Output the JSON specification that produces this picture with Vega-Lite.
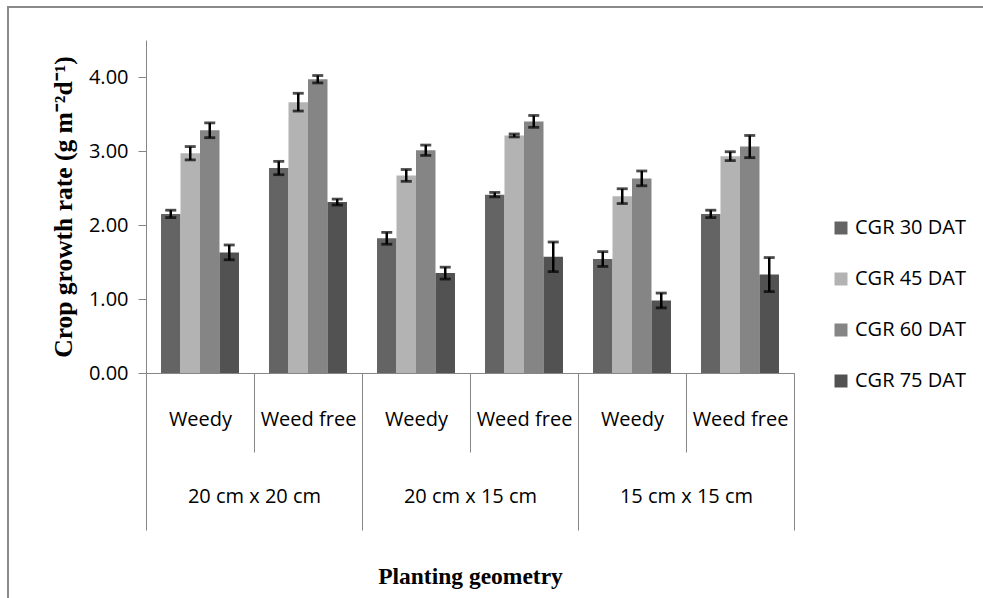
{
  "$schema": "https://vega.github.io/schema/vega-lite/v6.json",
  "width": 985,
  "height": 600,
  "autosize": {"type": "none"},
  "padding": {"left": 8, "top": 7, "right": 0, "bottom": 0},
  "background": "white",
  "config": {
    "view": {"stroke": "#8a8a8a", "strokeWidth": 2},
    "axis": {"domainColor": "#868686", "tickColor": "#868686", "grid": false, "labelColor": "#000000", "titleColor": "#000000"}
  },
  "data": {
    "values": [
      {"spacing": "20 cm x 20 cm", "cell": "20 cm x 20 cm|Weedy", "series": "CGR 30 DAT", "value": 2.15, "lo": 2.10, "hi": 2.20},
      {"spacing": "20 cm x 20 cm", "cell": "20 cm x 20 cm|Weedy", "series": "CGR 45 DAT", "value": 2.97, "lo": 2.88, "hi": 3.06},
      {"spacing": "20 cm x 20 cm", "cell": "20 cm x 20 cm|Weedy", "series": "CGR 60 DAT", "value": 3.28, "lo": 3.18, "hi": 3.38},
      {"spacing": "20 cm x 20 cm", "cell": "20 cm x 20 cm|Weedy", "series": "CGR 75 DAT", "value": 1.63, "lo": 1.53, "hi": 1.73},
      {"spacing": "20 cm x 20 cm", "cell": "20 cm x 20 cm|Weed free", "series": "CGR 30 DAT", "value": 2.77, "lo": 2.68, "hi": 2.86},
      {"spacing": "20 cm x 20 cm", "cell": "20 cm x 20 cm|Weed free", "series": "CGR 45 DAT", "value": 3.66, "lo": 3.54, "hi": 3.78},
      {"spacing": "20 cm x 20 cm", "cell": "20 cm x 20 cm|Weed free", "series": "CGR 60 DAT", "value": 3.97, "lo": 3.92, "hi": 4.02},
      {"spacing": "20 cm x 20 cm", "cell": "20 cm x 20 cm|Weed free", "series": "CGR 75 DAT", "value": 2.31, "lo": 2.27, "hi": 2.35},
      {"spacing": "20 cm x 15 cm", "cell": "20 cm x 15 cm|Weedy", "series": "CGR 30 DAT", "value": 1.82, "lo": 1.74, "hi": 1.90},
      {"spacing": "20 cm x 15 cm", "cell": "20 cm x 15 cm|Weedy", "series": "CGR 45 DAT", "value": 2.67, "lo": 2.59, "hi": 2.75},
      {"spacing": "20 cm x 15 cm", "cell": "20 cm x 15 cm|Weedy", "series": "CGR 60 DAT", "value": 3.01, "lo": 2.94, "hi": 3.08},
      {"spacing": "20 cm x 15 cm", "cell": "20 cm x 15 cm|Weedy", "series": "CGR 75 DAT", "value": 1.35, "lo": 1.27, "hi": 1.43},
      {"spacing": "20 cm x 15 cm", "cell": "20 cm x 15 cm|Weed free", "series": "CGR 30 DAT", "value": 2.41, "lo": 2.38, "hi": 2.44},
      {"spacing": "20 cm x 15 cm", "cell": "20 cm x 15 cm|Weed free", "series": "CGR 45 DAT", "value": 3.21, "lo": 3.19, "hi": 3.23},
      {"spacing": "20 cm x 15 cm", "cell": "20 cm x 15 cm|Weed free", "series": "CGR 60 DAT", "value": 3.40, "lo": 3.32, "hi": 3.48},
      {"spacing": "20 cm x 15 cm", "cell": "20 cm x 15 cm|Weed free", "series": "CGR 75 DAT", "value": 1.57, "lo": 1.37, "hi": 1.77},
      {"spacing": "15 cm x 15 cm", "cell": "15 cm x 15 cm|Weedy", "series": "CGR 30 DAT", "value": 1.54, "lo": 1.44, "hi": 1.64},
      {"spacing": "15 cm x 15 cm", "cell": "15 cm x 15 cm|Weedy", "series": "CGR 45 DAT", "value": 2.39, "lo": 2.29, "hi": 2.49},
      {"spacing": "15 cm x 15 cm", "cell": "15 cm x 15 cm|Weedy", "series": "CGR 60 DAT", "value": 2.63, "lo": 2.53, "hi": 2.73},
      {"spacing": "15 cm x 15 cm", "cell": "15 cm x 15 cm|Weedy", "series": "CGR 75 DAT", "value": 0.98, "lo": 0.88, "hi": 1.08},
      {"spacing": "15 cm x 15 cm", "cell": "15 cm x 15 cm|Weed free", "series": "CGR 30 DAT", "value": 2.15, "lo": 2.10, "hi": 2.20},
      {"spacing": "15 cm x 15 cm", "cell": "15 cm x 15 cm|Weed free", "series": "CGR 45 DAT", "value": 2.93, "lo": 2.87, "hi": 2.99},
      {"spacing": "15 cm x 15 cm", "cell": "15 cm x 15 cm|Weed free", "series": "CGR 60 DAT", "value": 3.06, "lo": 2.91, "hi": 3.21},
      {"spacing": "15 cm x 15 cm", "cell": "15 cm x 15 cm|Weed free", "series": "CGR 75 DAT", "value": 1.33, "lo": 1.10, "hi": 1.56}
    ]
  },
  "layer": [
    {
      "layer": [
        {
          "mark": {"type": "bar"},
          "encoding": {
            "x": {
              "field": "cell", "type": "nominal", "sort": null, "title": null,
              "scale": {"range": [138, 786], "paddingInner": 0, "paddingOuter": 0},
              "axis": {
                "orient": "bottom", "offset": -234, "tickBand": "extent", "tickSize": 79, "tickWidth": 1,
                "labelPadding": -43, "labelExpr": "split(datum.label, '|')[1]",
                "labelFont": "Open Sans", "labelFontSize": 20, "labelAngle": 0,
                "labelOverlap": false, "labelBound": false, "domainWidth": 1, "title": null
              }
            },
            "xOffset": {"field": "series", "type": "nominal", "sort": null, "scale": {"paddingInner": 0, "paddingOuter": 0.77}},
            "y": {
              "field": "value", "type": "quantitative", "title": "Crop growth rate (g m⁻²d⁻¹)",
              "scale": {"domain": [0, 4.5], "range": [366, 33], "nice": false, "zero": true},
              "axis": {
                "orient": "left", "offset": -138, "values": [0, 1, 2, 3, 4], "format": ".2f",
                "tickSize": 8, "labelPadding": 10, "labelFont": "Open Sans", "labelFontSize": 20,
                "titleFont": "Liberation Serif", "titleFontSize": 25.5, "titleFontWeight": "bold", "titlePadding": 12,
                "domainWidth": 1
              }
            },
            "color": {
              "field": "series", "type": "nominal", "sort": null,
              "scale": {"domain": ["CGR 30 DAT", "CGR 45 DAT", "CGR 60 DAT", "CGR 75 DAT"], "range": ["#646464", "#b3b3b3", "#858585", "#525252"]},
              "legend": {
                "orient": "none", "legendX": 823, "legendY": 211, "title": null,
                "symbolType": "square", "symbolSize": 169, "symbolStrokeWidth": 0,
                "labelFont": "Open Sans", "labelFontSize": 20, "labelColor": "#000000",
                "rowPadding": 31, "labelOffset": 4, "padding": 0, "labelLimit": 300
              }
            }
          }
        },
        {
          "mark": {"type": "rule", "color": "#000000", "strokeWidth": 2.5},
          "encoding": {
            "x": {"field": "cell", "type": "nominal", "sort": null, "title": null},
            "xOffset": {"field": "series", "type": "nominal", "sort": null},
            "y": {"field": "lo", "type": "quantitative", "title": "Crop growth rate (g m⁻²d⁻¹)"},
            "y2": {"field": "hi"}
          }
        },
        {
          "mark": {"type": "tick", "color": "#000000", "thickness": 2.8, "size": 11},
          "encoding": {
            "x": {"field": "cell", "type": "nominal", "sort": null, "title": null},
            "xOffset": {"field": "series", "type": "nominal", "sort": null},
            "y": {"field": "lo", "type": "quantitative", "title": "Crop growth rate (g m⁻²d⁻¹)"}
          }
        },
        {
          "mark": {"type": "tick", "color": "#000000", "thickness": 2.8, "size": 11},
          "encoding": {
            "x": {"field": "cell", "type": "nominal", "sort": null, "title": null},
            "xOffset": {"field": "series", "type": "nominal", "sort": null},
            "y": {"field": "hi", "type": "quantitative", "title": "Crop growth rate (g m⁻²d⁻¹)"}
          }
        }
      ]
    },
    {
      "mark": {"type": "rule", "opacity": 0},
      "encoding": {
        "x": {
          "field": "spacing", "type": "nominal", "sort": null, "title": "Planting geometry",
          "scale": {"range": [138, 786], "paddingInner": 0, "paddingOuter": 0},
          "axis": {
            "orient": "bottom", "offset": -234, "tickBand": "extent", "tickSize": 157, "tickWidth": 1,
            "labelPadding": -44, "labelFont": "Open Sans", "labelFontSize": 20, "labelAngle": 0,
            "labelOverlap": false, "labelBound": false, "domain": false,
            "titleFont": "Liberation Serif", "titleFontSize": 23.5, "titleFontWeight": "bold", "titlePadding": 34
          }
        }
      }
    }
  ],
  "resolve": {"scale": {"x": "independent"}, "axis": {"x": "independent"}}
}
